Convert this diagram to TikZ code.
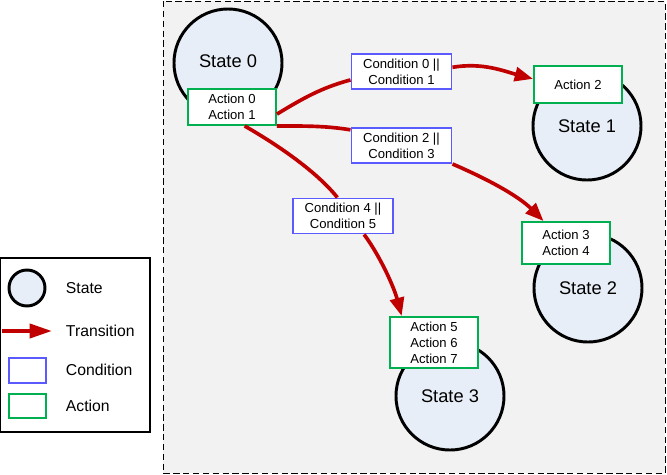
\documentclass[tikz,border=0pt]{standalone}
\usepackage{fontspec}
\setmainfont{Liberation Sans}
\definecolor{statefill}{RGB}{232, 238, 247}
\definecolor{bggray}{RGB}{242, 242, 242}
\definecolor{condblue}{RGB}{90, 90, 255}
\definecolor{actgreen}{RGB}{0, 176, 80}
\definecolor{transred}{RGB}{192, 0, 0}
\usetikzlibrary{positioning,arrows.meta}

\begin{document}
\begin{tikzpicture}[
    x=0.025cm, y=-0.025cm,
    state/.style={circle,draw,line width=2.1pt,fill=statefill,minimum size=2.7cm,inner sep=0pt,font=\fontsize{13}{15}\selectfont},
    action/.style={rectangle,draw=actgreen,line width=1.4pt,fill=white,minimum width=2.2cm,minimum height=0.9cm,align=center,font=\fontsize{9.3}{11.4}\selectfont},
    cond/.style={rectangle,draw=condblue,line width=1.4pt,fill=white,minimum width=2.5cm,minimum height=0.86cm,align=center,font=\fontsize{9.3}{11.4}\selectfont},
    arrow/.style={-{Triangle[length=13pt,width=10pt]},line width=2.6pt,transred},
    line/.style={line width=2.6pt,transred},
    legend/.style={anchor=west,font=\fontsize{11.2}{13}\selectfont}
]
    \useasboundingbox (0,0) rectangle (667,475);
    \draw[fill=bggray,dash pattern=on 4.5pt off 2.5pt,line width=0.7pt] (163,1) rectangle (665,473);

    % legend
    \draw[fill=white,line width=0.8pt] (0.5,258) rectangle (150,432);
    \node[circle,draw,line width=2.1pt,fill=statefill,minimum size=0.9cm,inner sep=0pt] (lstate) at (27,288) {};
    \node[legend] at (61,288) {State};
    \coordinate (ltrs) at (2,331);
    \coordinate (ltre) at (52,331);
    \draw[-{Triangle[length=16pt,width=10pt]},line width=2.8pt,transred] (ltrs) -- (ltre);
    \node[legend] at (61,331) {Transition};
    \node[draw=condblue,line width=1.4pt,fill=white,minimum width=0.92cm,minimum height=0.62cm] (lcond) at (27.5,370.5) {};
    \node[legend] at (61,370) {Condition};
    \node[draw=actgreen,line width=1.4pt,fill=white,minimum width=0.92cm,minimum height=0.6cm] (lact) at (27.5,406) {};
    \node[legend] at (61,406) {Action};

    % states
    \node[state] (s0) at (228,63) {};
    \node at (228,61) [font=\fontsize{13}{15}\selectfont] {State 0};
    \node[state] (s1) at (587,126) {State 1};
    \node[state] (s2) at (588,288) {State 2};
    \node[state] (s3) at (450,396) {State 3};

    % actions
    \node[action] (a01) at (232,107) {Action 0\\Action 1};
    \node[action,minimum height=0.92cm] (a2) at (578,84.5) {Action 2};
    \node[action,minimum height=1.05cm] (a34) at (566,243) {Action 3\\Action 4};
    \node[action] (a567) at (434,342.5) {Action 5\\Action 6\\Action 7};

    % conditions
    \node[cond] (c01) at (401.5,71.5) {Condition 0 ||\\Condition 1};
    \node[cond] (c23) at (401.5,145.5) {Condition 2 ||\\Condition 3};
    \node[cond] (c45) at (343,216) {Condition 4 ||\\Condition 5};

    % transitions
    \draw[line] ([yshift=-5pt]a01.east) .. controls +(25,-15) and +(-30,8) .. ([yshift=-6pt]c01.west);
    \draw[arrow] ([yshift=3pt]c01.east) .. controls +(30,-5) and +(-30,-8) .. ([yshift=4pt]a2.west);
    \draw[line] (a01.south east) .. controls +(30,0) and +(-25,-4) .. ([yshift=-2pt]c23.north west);
    \draw[arrow] (c23.south east) .. controls +(35,15) and +(-25,-25) .. ([xshift=16pt]a34.north west);
    \draw[line] ([xshift=9pt]a01.south) .. controls +(35,20) and +(-20,-25) .. ([xshift=-4pt]c45.north);
    \draw[arrow] ([xshift=15pt]c45.south) .. controls +(15,20) and +(-8,-30) .. ([xshift=9pt]a567.north west);
\end{tikzpicture}
\end{document}
